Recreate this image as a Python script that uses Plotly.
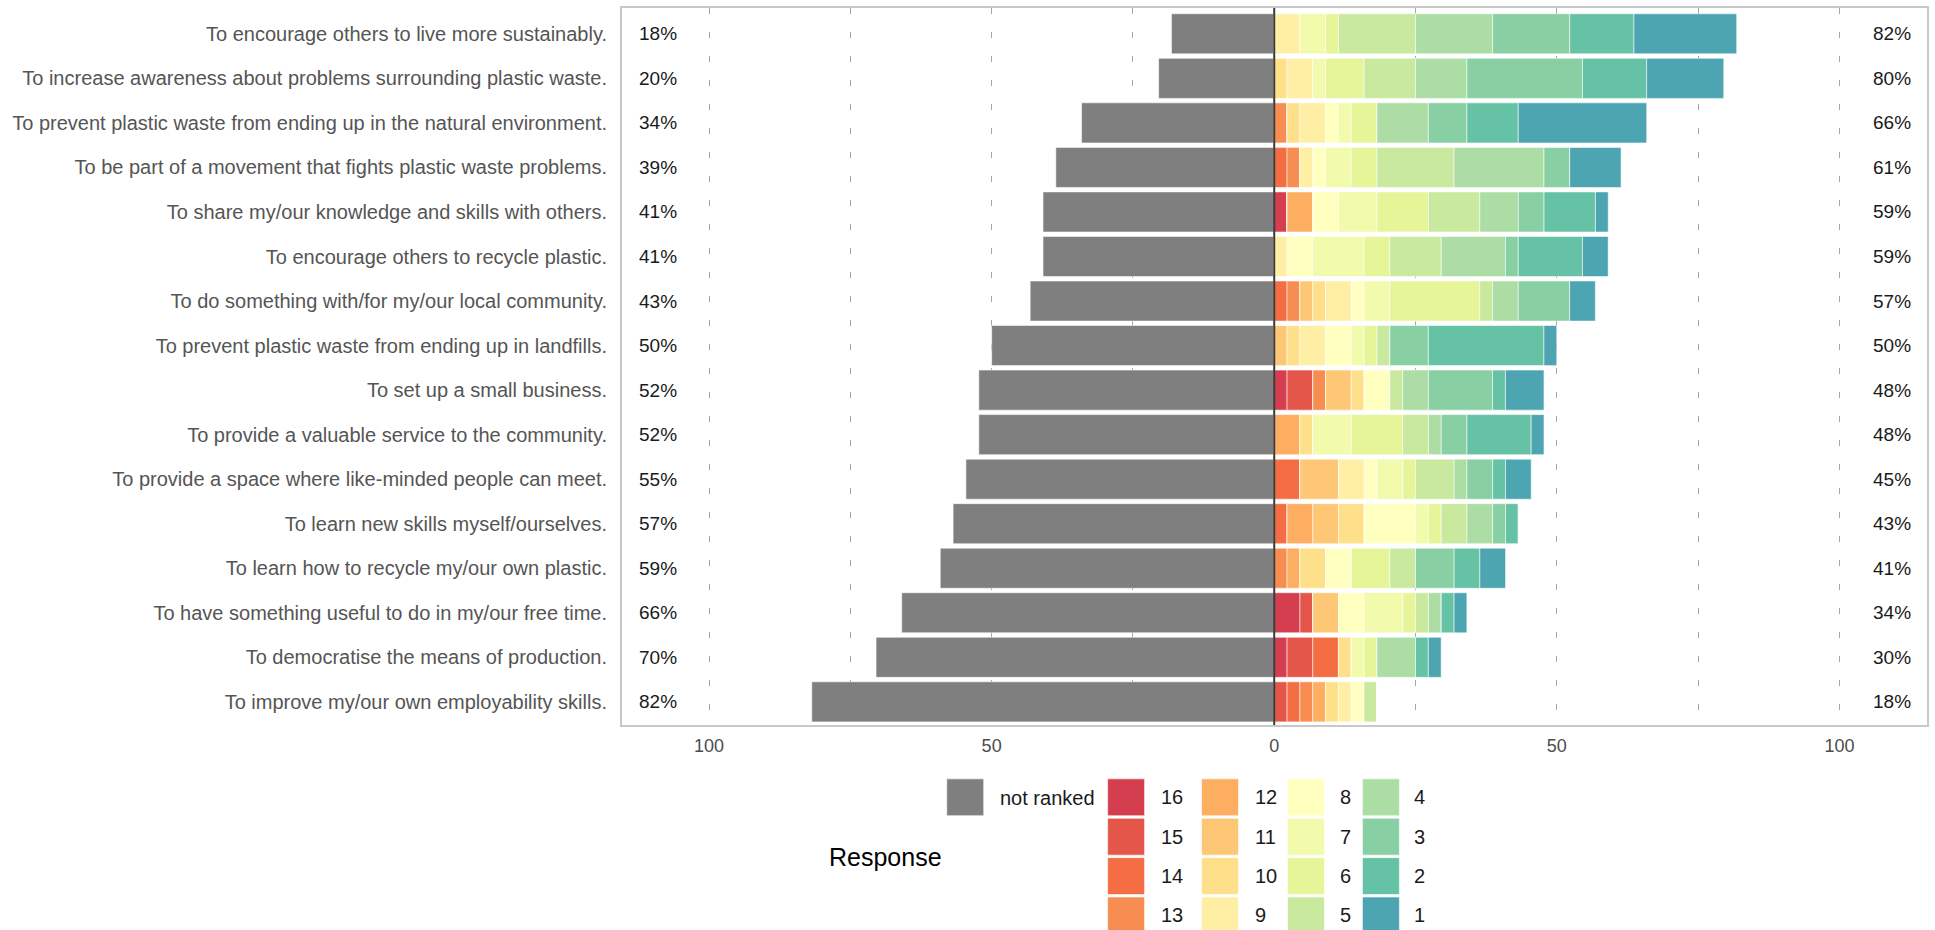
import plotly.graph_objects as go

# ---------------- data ----------------
categories = [
    "To encourage others to live more sustainably.",
    "To increase awareness about problems surrounding plastic waste.",
    "To prevent plastic waste from ending up in the natural environment.",
    "To be part of a movement that fights plastic waste problems.",
    "To share my/our knowledge and skills with others.",
    "To encourage others to recycle plastic.",
    "To do something with/for my/our local community.",
    "To prevent plastic waste from ending up in landfills.",
    "To set up a small business.",
    "To provide a valuable service to the community.",
    "To provide a space where like-minded people can meet.",
    "To learn new skills myself/ourselves.",
    "To learn how to recycle my/our own plastic.",
    "To have something useful to do in my/our free time.",
    "To democratise the means of production.",
    "To improve my/our own employability skills.",
]

# percentage of respondents who did not rank the item (left side)
not_ranked = [18.18, 20.45, 34.09, 38.64, 40.91, 40.91, 43.18, 50.00,
              52.27, 52.27, 54.55, 56.82, 59.09, 65.91, 70.45, 81.82]

# percentage of respondents giving each rank (right side), one list per rank
rank16 = [0, 0, 0, 0, 2.27, 0, 0, 0, 2.27, 0, 0, 0, 0, 4.55, 2.27, 0]
rank15 = [0, 0, 0, 0, 0, 0, 0, 0, 4.55, 0, 0, 0, 0, 2.27, 4.55, 2.27]
rank14 = [0, 0, 0, 2.27, 0, 0, 2.27, 0, 0, 0, 4.55, 2.27, 0, 0, 4.55, 2.27]
rank13 = [0, 0, 2.27, 2.27, 0, 0, 2.27, 0, 2.27, 0, 0, 0, 2.27, 0, 0, 2.27]
rank12 = [0, 0, 0, 0, 4.55, 0, 0, 0, 0, 4.55, 0, 4.55, 2.27, 0, 0, 2.27]
rank11 = [0, 0, 0, 0, 0, 0, 2.27, 2.27, 4.55, 0, 6.82, 4.55, 0, 4.55, 0, 0]
rank10 = [0, 2.27, 2.27, 0, 0, 0, 2.27, 2.27, 2.27, 2.27, 0, 4.55, 4.55, 0, 2.27, 2.27]
rank9 = [4.55, 4.55, 4.55, 2.27, 0, 2.27, 4.55, 4.55, 0, 0, 4.55, 0, 0, 0, 0, 2.27]
rank8 = [0, 0, 2.27, 2.27, 4.55, 4.55, 2.27, 4.55, 4.55, 0, 2.27, 9.09, 4.55, 4.55, 0, 2.27]
rank7 = [4.55, 2.27, 2.27, 4.55, 6.82, 9.09, 4.55, 2.27, 0, 6.82, 4.55, 2.27, 0, 6.82, 2.27, 0]
rank6 = [2.27, 6.82, 4.55, 4.55, 9.09, 4.55, 15.91, 2.27, 0, 9.09, 2.27, 2.27, 6.82, 2.27, 2.27, 0]
rank5 = [13.64, 9.09, 0, 13.64, 9.09, 9.09, 2.27, 2.27, 2.27, 4.55, 6.82, 4.55, 4.55, 2.27, 0, 2.27]
rank4 = [13.64, 9.09, 9.09, 15.91, 6.82, 11.36, 4.55, 0, 4.55, 2.27, 2.27, 4.55, 0, 2.27, 6.82, 0]
rank3 = [13.64, 20.45, 6.82, 4.55, 4.55, 2.27, 9.09, 6.82, 11.36, 4.55, 4.55, 2.27, 6.82, 0, 0, 0]
rank2 = [11.36, 11.36, 9.09, 0, 9.09, 11.36, 0, 20.45, 2.27, 11.36, 2.27, 2.27, 4.55, 2.27, 2.27, 0]
rank1 = [18.18, 13.64, 22.73, 9.09, 2.27, 4.55, 4.55, 2.27, 6.82, 2.27, 4.55, 0, 4.55, 2.27, 2.27, 0]

left_labels = ["18%", "20%", "34%", "39%", "41%", "41%", "43%", "50%",
               "52%", "52%", "55%", "57%", "59%", "66%", "70%", "82%"]
right_labels = ["82%", "80%", "66%", "61%", "59%", "59%", "57%", "50%",
                "48%", "48%", "45%", "43%", "41%", "34%", "30%", "18%"]

rank_names = ["16", "15", "14", "13", "12", "11", "10", "9",
              "8", "7", "6", "5", "4", "3", "2", "1"]
rank_values = [rank16, rank15, rank14, rank13, rank12, rank11, rank10, rank9,
               rank8, rank7, rank6, rank5, rank4, rank3, rank2, rank1]
rank_colors = ["#D53E4F", "#E45649", "#F46D43", "#F88D52", "#FDAE61", "#FDC776",
               "#FEE08B", "#FEEFA5", "#FFFFBF", "#F2FAAB", "#E6F598", "#C8E99E",
               "#ABDDA4", "#88CFA4", "#66C2A5", "#4CA5B1"]
not_ranked_name = "not ranked"
not_ranked_color = "#7F7F7F"

# ---------------- layout geometry (pixels) ----------------
W, H = 1935, 930
PL, PR, PT, PB = 622, 1928, 6, 725  # plot area edges

FONT = "Liberation Sans, Arial, sans-serif"

fig = go.Figure()

edge = dict(color="rgba(255,255,255,0.55)", width=1)

fig.add_trace(go.Bar(
    y=categories, x=[-v for v in not_ranked], orientation="h",
    name=not_ranked_name, marker=dict(color=not_ranked_color, line=edge),
    showlegend=False,
))
for name, vals, col in zip(rank_names, rank_values, rank_colors):
    fig.add_trace(go.Bar(
        y=categories, x=vals, orientation="h", name=name,
        marker=dict(color=col, line=edge), showlegend=False,
    ))

# percentage labels
for cat, ll, rl in zip(categories, left_labels, right_labels):
    fig.add_annotation(x=-109, y=cat, xref="x", yref="y", text=ll, showarrow=False,
                       font=dict(family=FONT, size=19, color="#1A1A1A"))
    fig.add_annotation(x=109.3, y=cat, xref="x", yref="y", text=rl, showarrow=False,
                       font=dict(family=FONT, size=19, color="#1A1A1A"))

# zero line
fig.add_shape(type="line", xref="x", yref="paper", x0=0, x1=0, y0=0, y1=1,
              line=dict(color="#3A3A3A", width=2), layer="above")


def px_x(p):
    return (p - PL) / (PR - PL)


def px_y(p):
    return (PB - p) / (PB - PT)


# ---------------- manual legend ----------------
box = 37
fig.add_shape(type="rect", xref="paper", yref="paper",
              x0=px_x(947), x1=px_x(947 + box), y0=px_y(779 + box), y1=px_y(779),
              fillcolor=not_ranked_color, line=dict(color="rgba(255,255,255,0.6)", width=1))
fig.add_annotation(xref="paper", yref="paper", x=px_x(998), y=px_y(798),
                   text=not_ranked_name, showarrow=False, xanchor="left", yanchor="middle",
                   font=dict(family=FONT, size=20, color="#1A1A1A"))

col_box_x = [1108, 1202, 1288, 1363]
col_txt_x = [1159, 1253, 1339, 1413]
row_top = [779, 818.5, 858, 897.5]
for i, (name, col) in enumerate(zip(rank_names, rank_colors)):
    c, r = divmod(i, 4)
    x0 = col_box_x[c]
    y0 = row_top[r]
    fig.add_shape(type="rect", xref="paper", yref="paper",
                  x0=px_x(x0), x1=px_x(x0 + box), y0=px_y(y0 + box), y1=px_y(y0),
                  fillcolor=col, line=dict(color="rgba(255,255,255,0.6)", width=1))
    fig.add_annotation(xref="paper", yref="paper", x=px_x(col_txt_x[c]), y=px_y(y0 + box / 2),
                       text=name, showarrow=False, xanchor="left", yanchor="middle",
                       font=dict(family=FONT, size=20, color="#1A1A1A"))

fig.add_annotation(xref="paper", yref="paper", x=px_x(886), y=px_y(857),
                   text="Response", showarrow=False, xanchor="center", yanchor="middle",
                   font=dict(family=FONT, size=25, color="#000000"))

fig.update_layout(
    width=W, height=H, autosize=False,
    margin=dict(l=PL, r=W - PR, t=PT, b=H - PB, pad=0),
    barmode="relative", bargap=0.1,
    plot_bgcolor="white", paper_bgcolor="white",
    showlegend=False,
    font=dict(family=FONT, color="#4D4D4D"),
)
fig.update_xaxes(
    range=[-115.4, 115.5],
    tickvals=[-100, -75, -50, -25, 0, 25, 50, 75, 100],
    ticktext=["100", "", "50", "", "0", "", "50", "", "100"],
    ticks="outside", ticklen=3, tickcolor="rgba(0,0,0,0)",
    tickfont=dict(family=FONT, size=18, color="#4D4D4D"),
    showgrid=True, gridcolor="#A6A6A6", gridwidth=1.2, griddash="6px,18px",
    zeroline=False,
    showline=True, mirror=True, linecolor="#C8C8C8", linewidth=2,
)
fig.update_yaxes(
    categoryorder="array", categoryarray=categories,
    range=[15.52, -0.58],
    ticks="outside", ticklen=9, tickcolor="rgba(0,0,0,0)",
    tickfont=dict(family=FONT, size=20, color="#555555"),
    showgrid=False, zeroline=False,
    showline=True, mirror=True, linecolor="#C8C8C8", linewidth=2,
)

fig.write_html(
    "out.html",
    config={"displayModeBar": False},
    post_script="document.body.style.margin='0';document.body.style.overflow='hidden';",
)
